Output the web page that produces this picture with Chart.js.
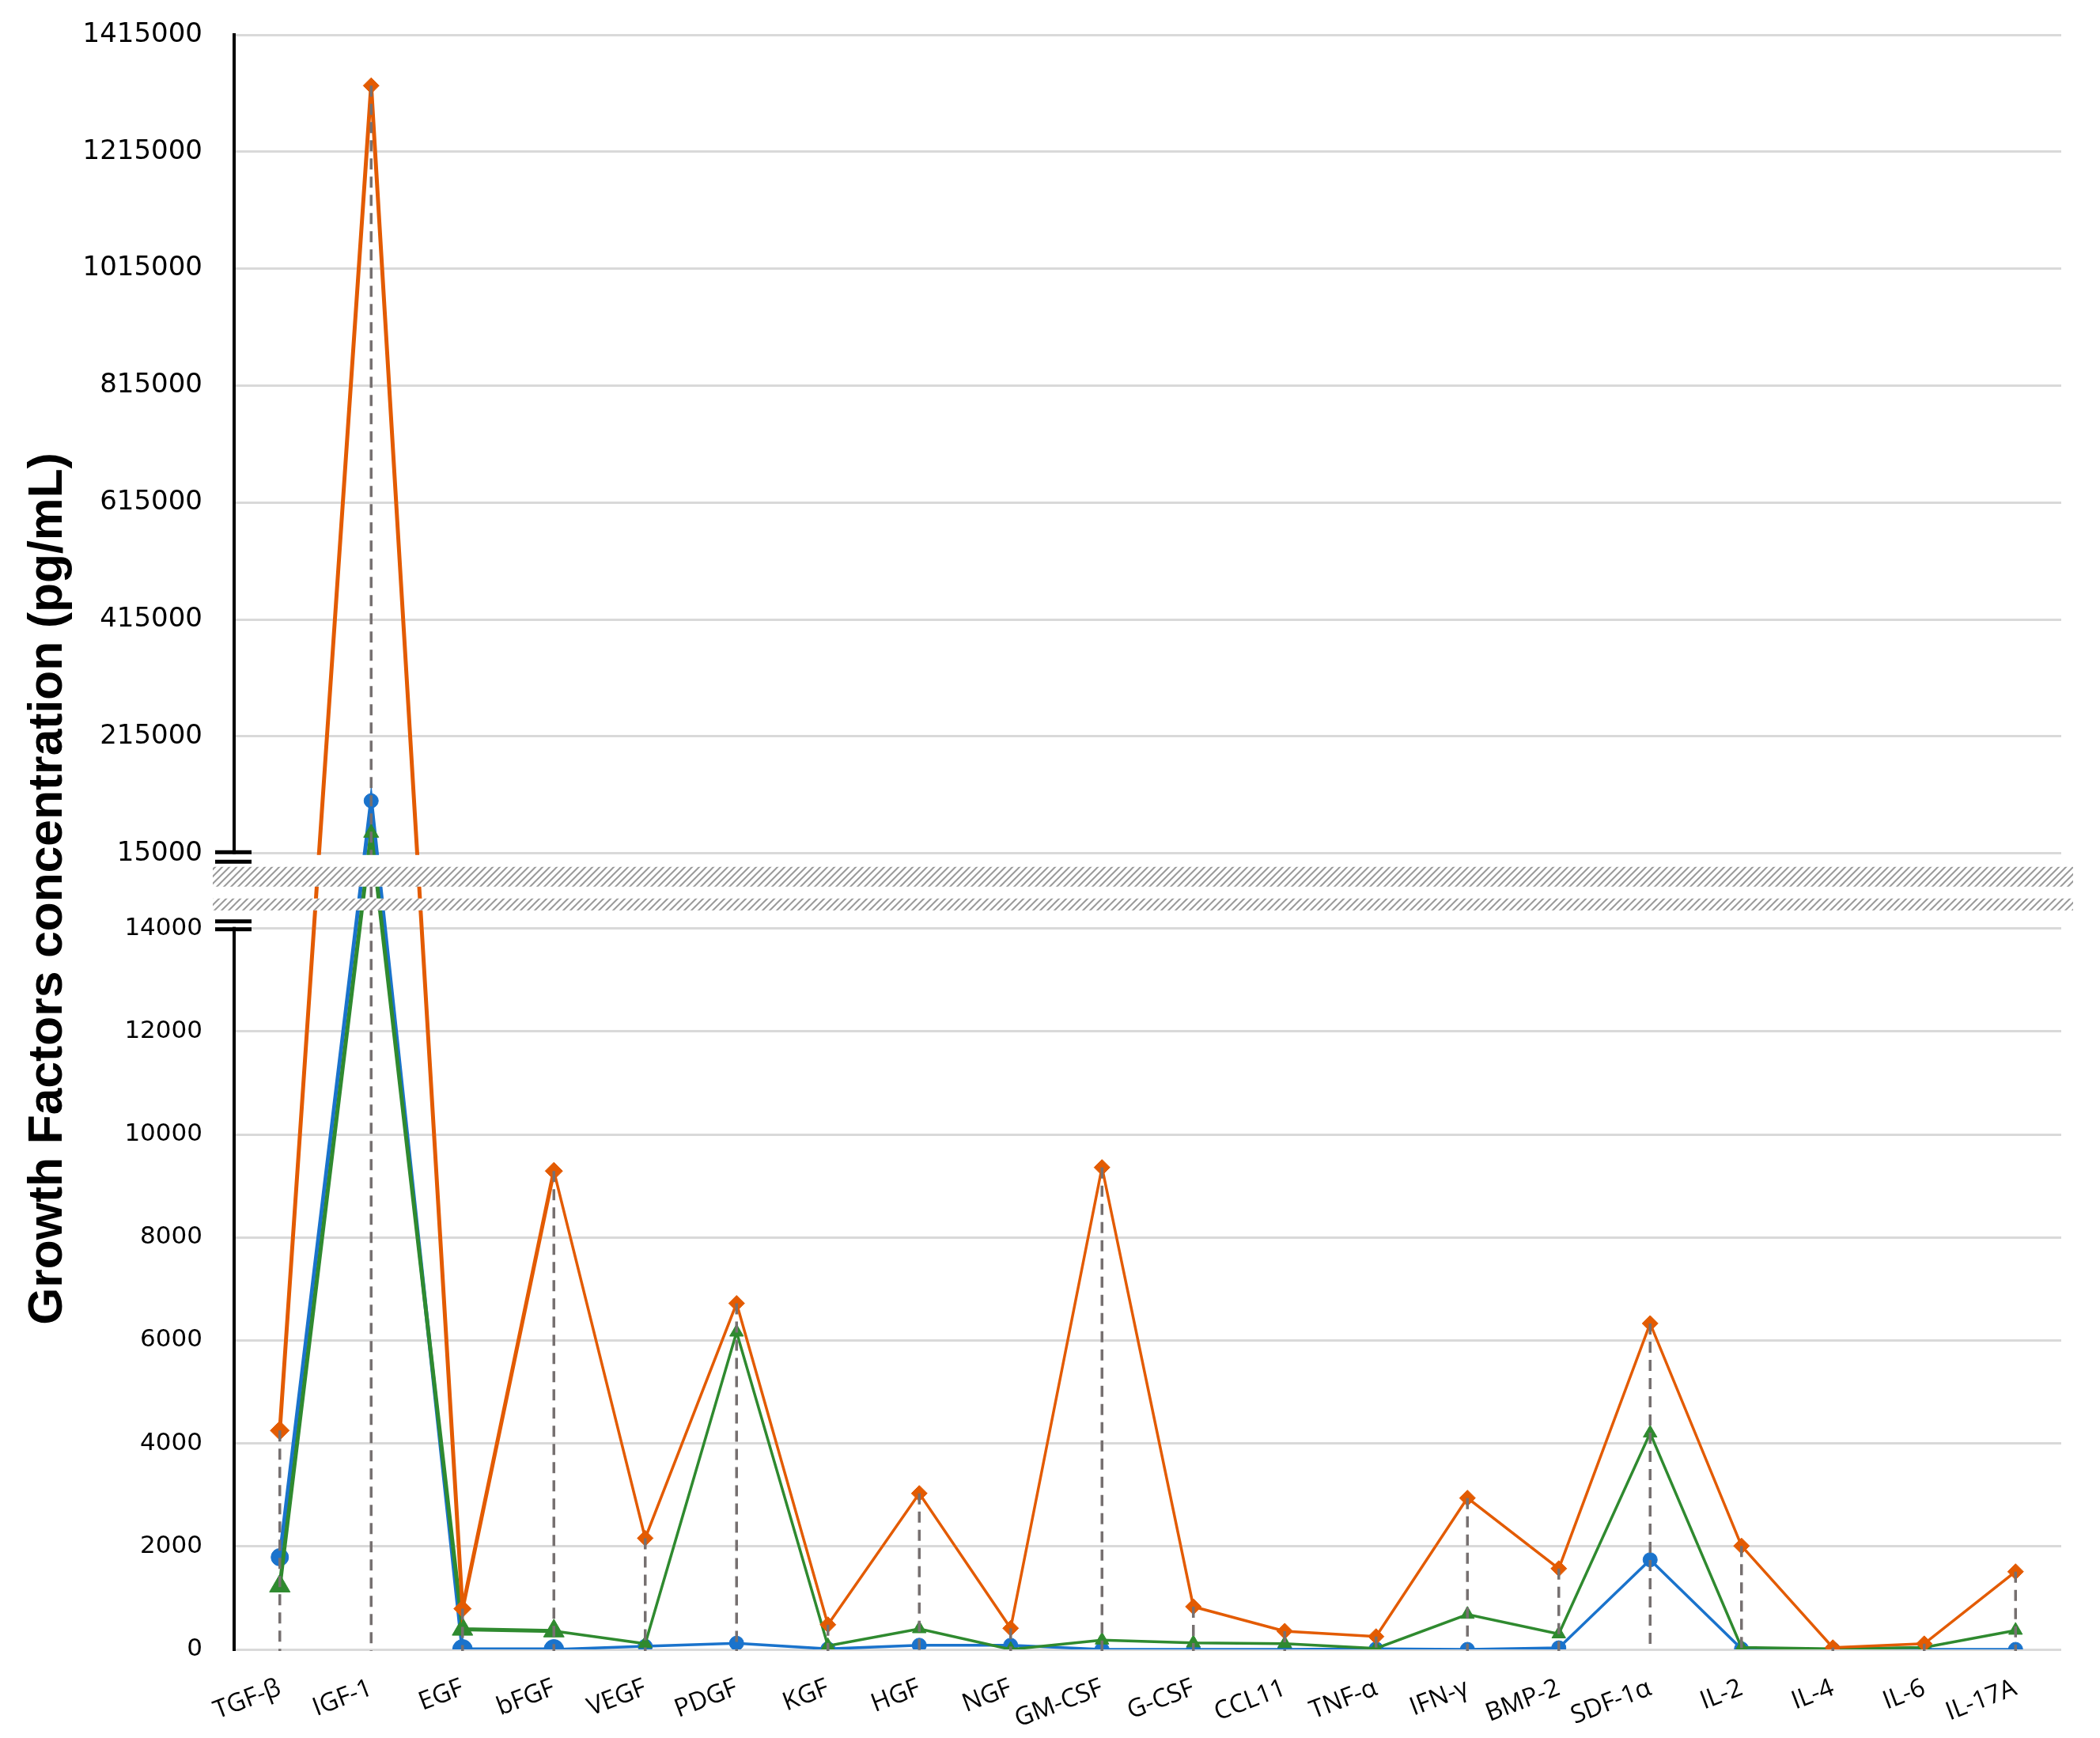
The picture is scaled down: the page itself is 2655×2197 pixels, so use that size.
<!DOCTYPE html>
<html>
<head>
<meta charset="utf-8">
<script src="https://cdn.jsdelivr.net/npm/chart.js@4.4.1/dist/chart.umd.min.js"></script>
<style>
  html, body { margin: 0; padding: 0; background: #ffffff; }
  canvas { display: block; }
</style>
</head>
<body>
<canvas id="c" width="2655" height="2197"></canvas>
<script>
// ---------------- data ----------------
const categories = ['TGF-β', 'IGF-1', 'EGF', 'bFGF', 'VEGF', 'PDGF', 'KGF', 'HGF', 'NGF', 'GM-CSF',
                    'G-CSF', 'CCL11', 'TNF-α', 'IFN-γ', 'BMP-2', 'SDF-1α', 'IL-2', 'IL-4', 'IL-6', 'IL-17A'];
const seriesOrange = [4250, 1328000, 790, 9290, 2160, 6720, 480, 3030, 410, 9360,
                      830, 355, 250, 2940, 1570, 6330, 2010, 35, 110, 1510];
const seriesGreen  = [1230, 50000, 390, 357, 110, 6160, 70, 400, 0, 180,
                      125, 110, 20, 680, 300, 4200, 40, 10, 40, 370];
const seriesBlue   = [1790, 105000, 0, 0, 60, 120, 10, 80, 80, 0,
                      0, 0, 10, 0, 30, 1740, 10, 0, 0, 0];
const lowerTicks = [0, 2000, 4000, 6000, 8000, 10000, 12000, 14000];
const upperTicks = [15000, 215000, 415000, 615000, 815000, 1015000, 1215000, 1415000];
const yTitle = 'Growth Factors concentration (pg/mL)';

// ---------------- broken y scale ----------------
const LOW_MAX = 14000, HIGH_MIN = 15000, HIGH_MAX = 1415000;
const LOW_FRAC = 0.4465, HIGH_FRAC = 0.4930;
function toFrac(v) {
  if (v <= LOW_MAX) return v / LOW_MAX * LOW_FRAC;
  if (v <= HIGH_MIN) return LOW_FRAC + (v - LOW_MAX) / (HIGH_MIN - LOW_MAX) * (HIGH_FRAC - LOW_FRAC);
  return HIGH_FRAC + (v - HIGH_MIN) / (HIGH_MAX - HIGH_MIN) * (1 - HIGH_FRAC);
}
function fromFrac(f) {
  if (f <= LOW_FRAC) return f / LOW_FRAC * LOW_MAX;
  if (f <= HIGH_FRAC) return LOW_MAX + (f - LOW_FRAC) / (HIGH_FRAC - LOW_FRAC) * (HIGH_MIN - LOW_MAX);
  return HIGH_MIN + (f - HIGH_FRAC) / (1 - HIGH_FRAC) * (HIGH_MAX - HIGH_MIN);
}
class BrokenLinearScale extends Chart.LinearScale {
  buildTicks() {
    this.start = this.min; this.end = this.max;
    return lowerTicks.concat(upperTicks).map(v => ({ value: v }));
  }
  getPixelForValue(value) {
    if (value === null || value === undefined || isNaN(value)) return NaN;
    return this.getPixelForDecimal(toFrac(value));
  }
  getValueForPixel(pixel) {
    return fromFrac(this.getDecimalForPixel(pixel));
  }
}
BrokenLinearScale.id = 'brokenLinear';
BrokenLinearScale.defaults = {};
Chart.register(BrokenLinearScale);

// ---------------- colours / styles ----------------
const ORANGE = '#E35B02', GREEN = '#2F8A2F', BLUE = '#1A73CC';
const DROP = '#767070';
const bigIdx = (i, normal, big, mid) => (i === 2 || i === 3) ? big : (i === 0 ? mid : normal);
const segW = ctx => ctx.p0DataIndex < 3 ? 5 : 3.5;

// hatch pattern
function makeHatch(ctx) {
  const p = document.createElement('canvas');
  p.width = 9; p.height = 9;
  const g = p.getContext('2d');
  g.strokeStyle = '#9a9a9a';
  g.lineWidth = 2;
  g.beginPath();
  g.moveTo(-1, 10); g.lineTo(10, -1);
  g.moveTo(-1, 1); g.lineTo(1, -1);
  g.moveTo(8, 10); g.lineTo(10, 8);
  g.stroke();
  return ctx.createPattern(p, 'repeat');
}

const overlayPlugin = {
  id: 'overlay',
  afterDatasetsDraw(chart) {
    const ctx = chart.ctx;
    const x = chart.scales.x, y = chart.scales.y;
    const area = chart.chartArea;
    // drop lines (from highest point of each category down to the axis)
    ctx.save();
    ctx.strokeStyle = DROP;
    ctx.lineWidth = 3.5;
    ctx.setLineDash([14, 9]);
    categories.forEach((c, i) => {
      const top = Math.max(seriesOrange[i], seriesGreen[i], seriesBlue[i]);
      const px = x.getPixelForValue(i);
      ctx.beginPath();
      ctx.moveTo(px, y.getPixelForValue(top));
      ctx.lineTo(px, y.getPixelForValue(0) + 2);
      ctx.stroke();
    });
    ctx.restore();

    // axis break band
    const y15 = y.getPixelForValue(HIGH_MIN);
    const y14 = y.getPixelForValue(LOW_MAX);
    const bx0 = area.left - 27, bx1 = area.right + 15;
    const hatch = makeHatch(ctx);
    ctx.save();
    ctx.fillStyle = '#ffffff';
    ctx.fillRect(bx0, y15 + 2, bx1 - bx0, 40);
    ctx.fillRect(bx0, y15 + 57, bx1 - bx0, 15);
    ctx.fillStyle = hatch;
    ctx.fillRect(bx0, y15 + 17, bx1 - bx0, 25);
    ctx.fillRect(bx0, y15 + 57, bx1 - bx0, 15);
    // hide axis line inside the break
    ctx.fillStyle = '#ffffff';
    ctx.fillRect(area.left - 4, y15 + 1, 8, (y14 - 2) - (y15 + 1));
    ctx.fillStyle = hatch;
    ctx.fillRect(area.left - 4, y15 + 17, 8, 25);
    ctx.fillRect(area.left - 4, y15 + 57, 8, 15);
    // break marks
    ctx.fillStyle = '#000000';
    const mx = area.left - 24, mw = 46;
    ctx.fillRect(mx, y15 - 4, mw, 5);
    ctx.fillRect(mx, y15 + 8, mw, 5);
    ctx.fillRect(mx, y14 - 11.5, mw, 5);
    ctx.fillRect(mx, y14 - 1.5, mw, 5);
    ctx.restore();
  },
  afterDraw(chart) {
    const ctx = chart.ctx;
    const y = chart.scales.y;
    ctx.save();
    ctx.translate(78, (y.getPixelForValue(0) + y.getPixelForValue(HIGH_MAX)) / 2 + 59);
    ctx.rotate(-Math.PI / 2);
    ctx.fillStyle = '#000000';
    ctx.font = 'bold 60.5px "Liberation Sans", Arial, sans-serif';
    ctx.textAlign = 'center';
    ctx.textBaseline = 'alphabetic';
    ctx.fillText(yTitle, 0, 0);
    ctx.restore();
  }
};

new Chart(document.getElementById('c'), {
  type: 'line',
  data: {
    labels: categories,
    datasets: [
      {
        label: 'Orange', data: seriesOrange,
        borderColor: ORANGE, backgroundColor: ORANGE,
        pointStyle: 'rectRot',
        pointRadius: ctx => bigIdx(ctx.dataIndex, 10, 11, 12),
        pointBorderWidth: 1, pointBorderColor: ORANGE, pointBackgroundColor: ORANGE,
        borderWidth: 3.5, tension: 0, segment: { borderWidth: segW }
      },
      {
        label: 'Green', data: seriesGreen,
        borderColor: GREEN, backgroundColor: GREEN,
        pointStyle: 'triangle',
        pointRadius: ctx => ctx.dataIndex === 1 ? 11 : bigIdx(ctx.dataIndex, 10, 15, 15),
        pointBorderWidth: 1, pointBorderColor: GREEN, pointBackgroundColor: GREEN,
        borderWidth: 3.5, tension: 0, segment: { borderWidth: segW }
      },
      {
        label: 'Blue', data: seriesBlue,
        borderColor: BLUE, backgroundColor: BLUE,
        pointStyle: 'circle',
        pointRadius: ctx => bigIdx(ctx.dataIndex, 9, 12.5, 11),
        pointBorderWidth: 1, pointBorderColor: BLUE, pointBackgroundColor: BLUE,
        borderWidth: 3.5, tension: 0, segment: { borderWidth: segW }
      }
    ]
  },
  options: {
    responsive: false,
    devicePixelRatio: 1,
    animation: false,
    events: [],
    layout: { padding: { top: 44, right: 49, left: 0, bottom: 0 } },
    plugins: { legend: { display: false }, tooltip: { enabled: false } },
    scales: {
      x: {
        type: 'category',
        offset: true,
        grid: { display: false, drawTicks: false },
        border: { display: false },
        ticks: {
          autoSkip: false, maxRotation: 21, minRotation: 21, padding: 30,
          color: '#000000',
          font: { family: '"Open Sans", "Liberation Sans", sans-serif', size: 32 }
        },
        afterFit: s => { s.height = 112; s.paddingLeft = 0; s.paddingRight = 0; }
      },
      y: {
        type: 'brokenLinear',
        min: 0, max: HIGH_MAX,
        grid: { color: '#d9d9d9', lineWidth: 3, drawTicks: false },
        border: { display: true, color: '#000000', width: 4 },
        ticks: {
          padding: 40,
          color: '#000000',
          font: ctx => ({ family: '"DejaVu Sans", Verdana, sans-serif', size: (ctx.tick && ctx.tick.value >= HIGH_MIN) ? 34 : 31 }),
          callback: v => String(v)
        },
        afterFit: s => { s.width = 296; s.paddingTop = 0; s.paddingBottom = 0; }
      }
    }
  },
  plugins: [overlayPlugin]
});
</script>
</body>
</html>
